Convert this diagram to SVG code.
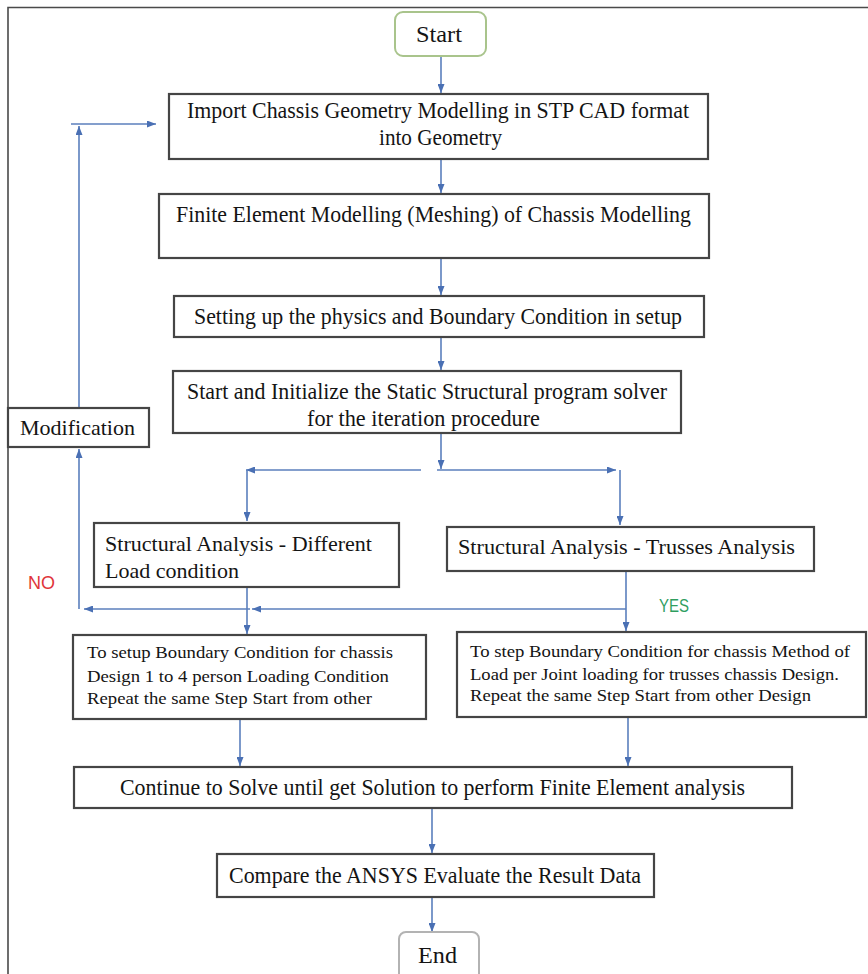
<svg xmlns="http://www.w3.org/2000/svg" width="868" height="974" viewBox="0 0 868 974">
<defs>
<marker id="ah" markerUnits="userSpaceOnUse" markerWidth="9" markerHeight="7" refX="9" refY="3.5" orient="auto">
<path d="M0,0 L9,3.5 L0,7 z" fill="#4a70b4"/>
</marker>
<style>
.box{fill:#fff;stroke:#454545;stroke-width:2.2}
.t{font-family:"Liberation Serif","Times New Roman",serif;fill:#141414;font-size:23px}
.m{font-size:22px}
.s{font-size:17.5px}
.c{fill:none;stroke:#5b7fbd;stroke-width:1.6}
.a{marker-end:url(#ah)}
</style>
</defs>
<rect width="868" height="974" fill="#fff"/>
<path d="M8,974 L8,7.5 L868,7.5" fill="none" stroke="#4a4a4a" stroke-width="1.6"/>

<g id="connectors">
<line class="c a" x1="441" y1="56" x2="441" y2="93"/>
<line class="c a" x1="441" y1="159" x2="441" y2="193"/>
<line class="c a" x1="441" y1="258" x2="441" y2="295"/>
<line class="c a" x1="441" y1="337" x2="441" y2="370"/>
<line class="c a" x1="441" y1="433" x2="441" y2="469"/>
<line class="c a" x1="421" y1="470" x2="246" y2="470"/>
<line class="c a" x1="247" y1="470" x2="247" y2="521"/>
<line class="c a" x1="437" y1="470" x2="616" y2="470"/>
<line class="c a" x1="620" y1="470" x2="620" y2="525"/>
<line class="c a" x1="247" y1="587" x2="247" y2="634"/>
<line class="c a" x1="626" y1="571" x2="626" y2="631"/>
<line class="c a" x1="626" y1="609" x2="252" y2="609"/>
<line class="c a" x1="250" y1="609" x2="84" y2="609"/>
<line class="c a" x1="79" y1="609" x2="79" y2="449"/>
<line class="c a" x1="79" y1="408" x2="79" y2="126"/>
<line class="c a" x1="71" y1="124" x2="156" y2="124"/>
<line class="c a" x1="240" y1="719" x2="240" y2="766"/>
<line class="c a" x1="628" y1="717" x2="628" y2="766"/>
<line class="c a" x1="432" y1="808" x2="432" y2="853"/>
<line class="c a" x1="432" y1="897" x2="432" y2="932"/>
</g>

<g id="start">
<rect x="395" y="12" width="91" height="44" rx="8" fill="#fff" stroke="#a9c48c" stroke-width="2"/>
<text class="t" x="416" y="42" textLength="46" lengthAdjust="spacingAndGlyphs">Start</text>
</g>
<g id="import">
<rect class="box" x="169" y="94" width="539" height="65"/>
<text class="t" x="187" y="118" textLength="502" lengthAdjust="spacingAndGlyphs">Import Chassis Geometry Modelling in STP CAD format</text>
<text class="t" x="379" y="145" textLength="123" lengthAdjust="spacingAndGlyphs">into Geometry</text>
</g>
<g id="meshing">
<rect class="box" x="159" y="194" width="550" height="64"/>
<text class="t" x="176" y="222" textLength="515" lengthAdjust="spacingAndGlyphs">Finite Element Modelling (Meshing) of Chassis Modelling</text>
</g>
<g id="setup">
<rect class="box" x="174" y="296" width="530" height="41"/>
<text class="t" x="194" y="324" textLength="488" lengthAdjust="spacingAndGlyphs">Setting up the physics and Boundary Condition in setup</text>
</g>
<g id="solver">
<rect class="box" x="173" y="371" width="508" height="62"/>
<text class="t" x="187" y="399" textLength="480" lengthAdjust="spacingAndGlyphs">Start and Initialize the Static Structural program solver</text>
<text class="t" x="307" y="426" textLength="233" lengthAdjust="spacingAndGlyphs">for the iteration procedure</text>
</g>
<g id="modification">
<rect class="box" x="8" y="408" width="141" height="39"/>
<text class="t m" x="20" y="435" textLength="115" lengthAdjust="spacingAndGlyphs">Modification</text>
</g>
<g id="analysis-load">
<rect class="box" x="94" y="523" width="305" height="64"/>
<text class="t m" x="105" y="551" textLength="267" lengthAdjust="spacingAndGlyphs">Structural Analysis - Different</text>
<text class="t m" x="105" y="578" textLength="134" lengthAdjust="spacingAndGlyphs">Load condition</text>
</g>
<g id="analysis-truss">
<rect class="box" x="447" y="527" width="367" height="44"/>
<text class="t m" x="458" y="554" textLength="337" lengthAdjust="spacingAndGlyphs">Structural Analysis - Trusses Analysis</text>
</g>
<g id="label-no">
<text x="28" y="589" font-family="Liberation Sans, Arial, sans-serif" font-size="18" fill="#e0353a" textLength="27" lengthAdjust="spacingAndGlyphs">NO</text>
</g>
<g id="label-yes">
<text x="659" y="612" font-family="Liberation Sans, Arial, sans-serif" font-size="18" fill="#2f9e5f" textLength="30" lengthAdjust="spacingAndGlyphs">YES</text>
</g>
<g id="bc-load">
<rect class="box" x="73" y="635" width="353" height="84"/>
<text class="t s" x="87" y="658" textLength="306" lengthAdjust="spacingAndGlyphs">To setup Boundary Condition for chassis</text>
<text class="t s" x="87" y="682" textLength="302" lengthAdjust="spacingAndGlyphs">Design 1 to 4 person Loading Condition</text>
<text class="t s" x="87" y="704" textLength="285" lengthAdjust="spacingAndGlyphs">Repeat the same Step Start from other</text>
</g>
<g id="bc-truss">
<rect class="box" x="457" y="632" width="409" height="85"/>
<text class="t s" x="470" y="657" textLength="380" lengthAdjust="spacingAndGlyphs">To step Boundary Condition for chassis Method of</text>
<text class="t s" x="470" y="680" textLength="369" lengthAdjust="spacingAndGlyphs">Load per Joint loading for trusses chassis Design.</text>
<text class="t s" x="470" y="701" textLength="341" lengthAdjust="spacingAndGlyphs">Repeat the same Step Start from other Design</text>
</g>
<g id="solve">
<rect class="box" x="74" y="767" width="718" height="41"/>
<text class="t" x="120" y="795" textLength="625" lengthAdjust="spacingAndGlyphs">Continue to Solve until get Solution to perform Finite Element analysis</text>
</g>
<g id="compare">
<rect class="box" x="217" y="854" width="437" height="43"/>
<text class="t" x="229" y="883" textLength="412" lengthAdjust="spacingAndGlyphs">Compare the ANSYS Evaluate the Result Data</text>
</g>
<g id="end">
<rect x="399" y="932" width="80" height="50" rx="7" fill="#fff" stroke="#b3b3b3" stroke-width="2"/>
<text class="t" x="418" y="963" textLength="39" lengthAdjust="spacingAndGlyphs">End</text>
</g>
</svg>
